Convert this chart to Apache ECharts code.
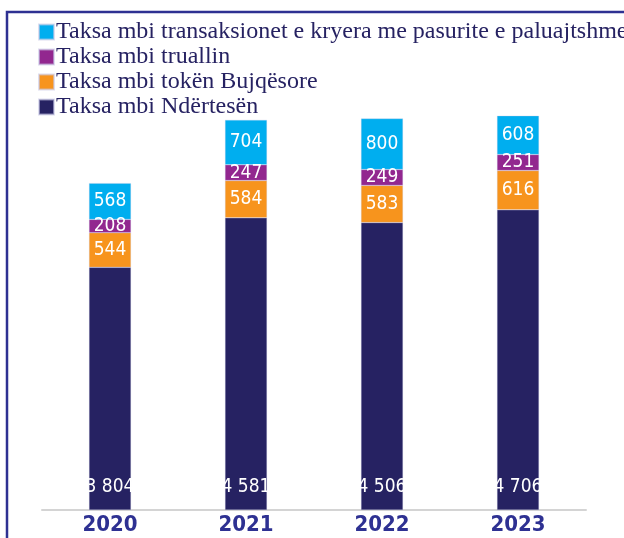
<!DOCTYPE html>
<html>
<head>
<meta charset="utf-8">
<script src="https://cdn.jsdelivr.net/npm/echarts@6/dist/echarts.min.js"></script>
<style>
html,body{margin:0;padding:0;background:#fff;}
#chart{width:624px;height:538px;}
</style>
</head>
<body>
<div id="chart"></div>
<script>
const years = ['2020', '2021', '2022', '2023'];
const ndertesen = [3804, 4581, 4506, 4706];
const tokenBujqesore = [544, 584, 583, 616];
const truallin = [208, 247, 249, 251];
const transaksionet = [568, 704, 800, 608];

const names = [
    'Taksa mbi Ndërtesën',
    'Taksa mbi tokën Bujqësore',
    'Taksa mbi truallin',
    'Taksa mbi transaksionet e kryera me pasurite e paluajtshme'
];

const fmt = function (p) {
    return String(p.value).replace(/\B(?=(\d{3})+(?!\d))/g, ' ');
};

const labelStyle = {
    show: true,
    position: 'inside',
    color: '#fff',
    fontFamily: 'DejaVu Sans Condensed',
    fontSize: 19,
    formatter: fmt
};

function barSeries(name, data, color, label) {
    return {
        name: name,
        type: 'bar',
        stack: 'total',
        barWidth: 42,
        data: data,
        itemStyle: {
            color: color,
            borderColor: 'rgba(200,200,230,0.6)',
            borderWidth: 0.5
        },
        label: label
    };
}

const chart = echarts.init(document.getElementById('chart'));
chart.setOption({
    animation: false,
    graphic: [{
        type: 'polyline',
        shape: { points: [[7, 538], [7, 12], [624, 12]] },
        style: { stroke: '#2e3192', lineWidth: 2.5, fill: null }
    }],
    legend: {
        orient: 'vertical',
        left: 33,
        top: 15,
        itemWidth: 15,
        itemHeight: 15,
        itemGap: 1,
        icon: 'rect',
        data: names.slice().reverse(),
        textStyle: {
            color: '#262262',
            fontFamily: 'Liberation Serif',
            fontSize: 24,
            padding: [0, 0, 0, -3]
        }
    },
    grid: {
        left: 42,
        right: 38,
        top: 63.5,
        bottom: 28
    },
    xAxis: {
        type: 'category',
        data: years,
        axisTick: { show: false },
        axisLine: { lineStyle: { color: '#d4d4d4', width: 2 } },
        axisLabel: {
            color: '#2e3192',
            fontFamily: 'DejaVu Sans Condensed',
            fontWeight: 'bold',
            fontSize: 22,
            margin: 4
        }
    },
    yAxis: {
        type: 'value',
        min: 0,
        max: 7000,
        show: false
    },
    series: [
        barSeries(names[0], ndertesen, '#262262', Object.assign({}, labelStyle, { position: 'insideBottom', distance: 13 })),
        barSeries(names[1], tokenBujqesore, '#f7941d', labelStyle),
        barSeries(names[2], truallin, '#92278f', labelStyle),
        barSeries(names[3], transaksionet, '#00aeef', labelStyle)
    ]
});
window.addEventListener('resize', function () {
    chart.resize();
});
</script>
</body>
</html>
